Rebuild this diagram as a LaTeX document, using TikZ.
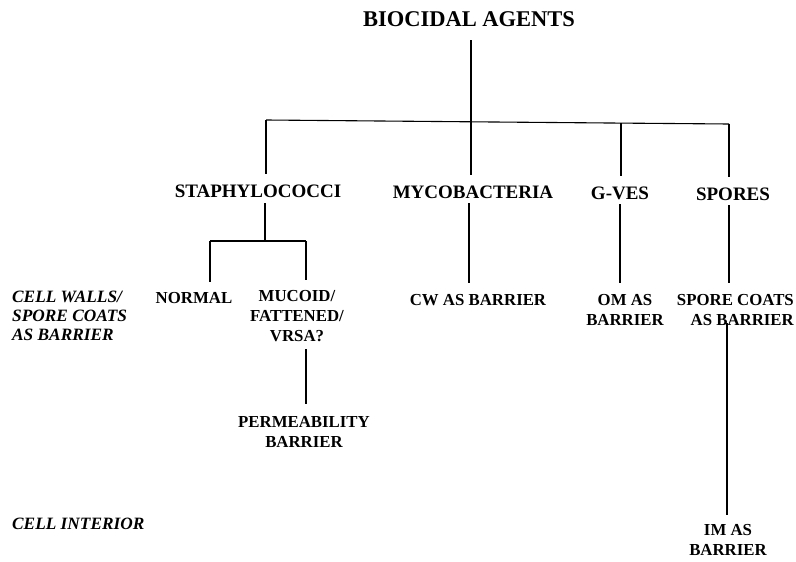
\documentclass[tikz,border=0pt]{standalone}
\usepackage{fontspec}
\setmainfont{Liberation Serif}
\begin{document}
\begin{tikzpicture}[x=1pt,y=-1pt,
  lbl/.style={inner sep=0pt, font=\bfseries\fontsize{16.8}{19.7}\selectfont, align=center, anchor=base},
  big/.style={inner sep=0pt, font=\bfseries\fontsize{19}{22}\selectfont, anchor=base},
  ttl/.style={inner sep=0pt, font=\bfseries\fontsize{22.5}{26}\selectfont, anchor=base},
  side/.style={inner sep=0pt, font=\bfseries\itshape\fontsize{17.3}{18.6}\selectfont, align=left, anchor=base west},
  conn/.style={line width=1.1pt}]
\useasboundingbox (0,0) rectangle (796,562);
\fill[white] (0,0) rectangle (796,562);

% nodes (multi-line nodes are placed by the baseline of their last line)
\node[ttl] (title) at (469,27) {BIOCIDAL AGENTS};
\node[big] (staph) at (258,197) {STAPHYLOCOCCI};
\node[big] (myco) at (473,198) {MYCOBACTERIA};
\node[big] (gves) at (620,199) {G-VES};
\node[big] (spores) at (733,200) {SPORES};
\node[lbl] (normal) at (194,303) {NORMAL};
\node[lbl] (mucoid) at (297,341) {MUCOID/\\FATTENED/\\VRSA?};
\node[lbl] (perm) at (304,447) {PERMEABILITY\\BARRIER};
\node[lbl] (cw) at (478,305) {CW AS BARRIER};
\node[lbl] (om) at (625,325) {OM AS\\BARRIER};
\node[lbl, align=right, anchor=base east] (coats) at (794,325) {SPORE COATS\\AS BARRIER};
\node[lbl] (im) at (728,555) {IM AS\\BARRIER};
\node[side] (cellwalls) at (12,340) {CELL WALLS/\\SPORE COATS\\AS BARRIER};
\node[side] (interior) at (12,529) {CELL INTERIOR};

% junction coordinates
\coordinate (barL) at (266,120);
\coordinate (j0) at (471,121.8);
\coordinate (jG) at (621,123.1);
\coordinate (barR) at (729,124);
\coordinate (sj) at (265,241);
\coordinate (sL) at (210,241);
\coordinate (sR) at (306,241);
\coordinate (mx) at (469,0);
\coordinate (gx) at (620,0);
\coordinate (px) at (727,0);

% connectors
\draw[conn] (title.base -| j0) ++(0,13) -- (j0);
\draw[conn] (barL) -- (j0) -- (jG) -- (barR);
\draw[conn, shorten >=10pt] (barL) -- (barL |- staph.north);
\draw[conn, shorten >=10pt] (j0) -- (j0 |- myco.north);
\draw[conn, shorten >=10pt] (jG) -- (jG |- gves.north);
\draw[conn, shorten >=10pt] (barR) -- (barR |- spores.north);

\draw[conn, shorten <=6pt] (staph.base -| sj) -- (sj);
\draw[conn] (sL) -- (sR);
\draw[conn, shorten >=10pt] (sL) -- (sL |- normal.north);
\draw[conn, shorten >=10pt] (sR) -- (sR |- mucoid.north);
\draw[conn, shorten <=8pt, shorten >=12pt] (mucoid.south -| sR) -- (sR |- perm.north);

\draw[conn, shorten <=5pt, shorten >=11pt] (myco.base -| mx) -- (mx |- cw.north);
\draw[conn, shorten <=5pt, shorten >=11pt] (gves.base -| gx) -- (gx |- om.north);
\draw[conn, shorten <=5pt, shorten >=11pt] (spores.base -| barR) -- (barR |- coats.north);
\draw[conn, shorten >=9pt] (coats.south -| px) ++(0,-2) -- (px |- im.north);
\end{tikzpicture}
\end{document}
